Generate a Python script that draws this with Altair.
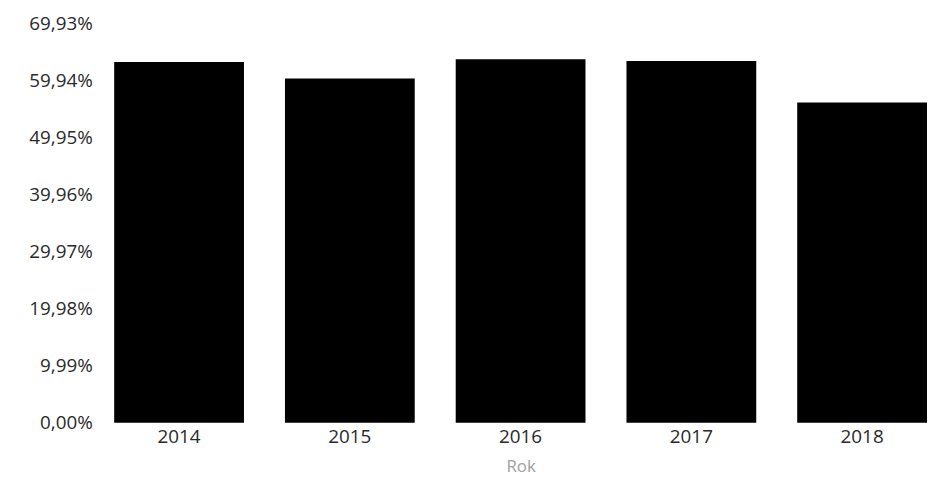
import altair as alt
import pandas as pd

years = ["2014", "2015", "2016", "2017", "2018"]
shares = [63.2, 60.3, 63.7, 63.4, 56.1]
tick_values = [0, 9.99, 19.98, 29.97, 39.96, 49.95, 59.94, 69.93]

df = pd.DataFrame({"Rok": years, "Udział": shares})

chart = alt.Chart(df).mark_bar(color="#000000").encode(
    x=alt.X("Rok:N", sort=years,
            scale=alt.Scale(paddingInner=0.24, paddingOuter=0),
            axis=alt.Axis(title="Rok", labelAngle=0, labelFontSize=19,
                          labelColor="#2a2a2a", labelFont="Open Sans",
                          titleFont="Open Sans", titleFontSize=17,
                          titleFontWeight="normal", titleColor="#a0a0a0",
                          ticks=False, domain=False, labelPadding=5,
                          titlePadding=12)),
    y=alt.Y("Udział:Q",
            scale=alt.Scale(domain=[0, 69.93], nice=False),
            axis=alt.Axis(title=None, values=tick_values,
                          labelExpr="replace(format(datum.value, '.2f'), '.', ',') + '%'",
                          labelFontSize=19, labelColor="#2a2a2a",
                          labelFont="Open Sans", ticks=False, domain=False,
                          grid=False, labelPadding=22)),
).properties(
    width=819, height=402,
    background="#ffffff",
    autosize=alt.AutoSizeParams(type="none"),
    padding={"left": 107, "top": 14, "right": 0, "bottom": 55},
).configure_view(stroke=None, strokeWidth=0)

chart.save("out.html", embed_options={"renderer": "svg", "actions": False})
